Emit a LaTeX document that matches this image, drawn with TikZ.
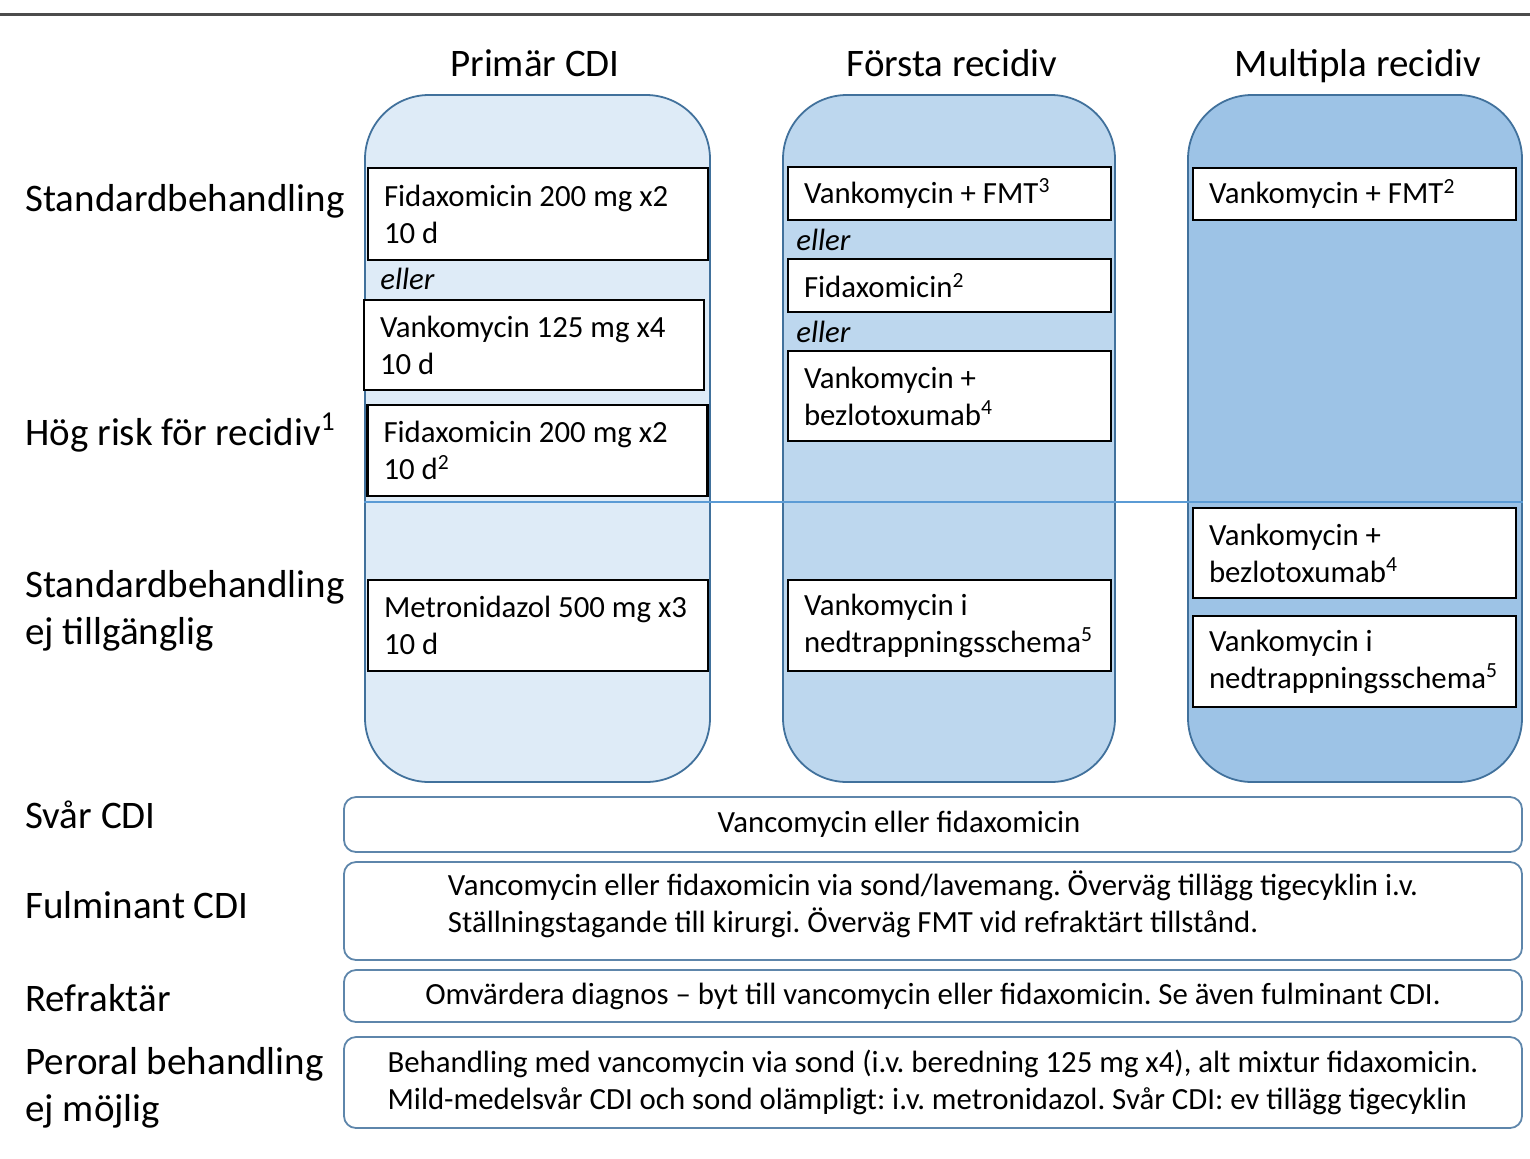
\documentclass[tikz,border=0pt]{standalone}
\usepackage{fontspec}
\setmainfont{Carlito}
\usetikzlibrary{positioning}
\definecolor{lightcol}{RGB}{222,235,247}
\definecolor{midcol}{RGB}{189,215,238}
\definecolor{darkcol}{RGB}{157,195,230}
\definecolor{colborder}{RGB}{65,113,156}
\definecolor{rowline}{RGB}{91,155,213}
\newcommand{\fnote}[1]{\textsuperscript{#1}}
\frenchspacing

\begin{document}
\begin{tikzpicture}[x=0.5pt, y=-0.5pt,
  rowlabel/.style={anchor=west, align=left, inner sep=0pt, font=\fontsize{19.5}{23.5}\selectfont},
  colhead/.style={anchor=base, inner sep=0pt, font=\fontsize{19.5}{24}\selectfont},
  column/.style={draw=colborder, line width=0.9pt, rounded corners=32pt, minimum height=343.5pt, minimum width=#1, inner sep=0pt},
  dose/.style={draw=black, fill=white, line width=1.1pt, align=flush left, inner xsep=8pt, inner ysep=0pt, text width=#1, font=\fontsize{15.4}{18.5}\selectfont},
  orlabel/.style={anchor=west, inner sep=0pt, font=\fontsize{15.4}{18}\selectfont\itshape},
  widebox/.style={draw=colborder!85, fill=white, line width=0.9pt, rounded corners=6pt, minimum width=589pt, align=#1, font=\fontsize{15.4}{18.5}\selectfont}]
  \useasboundingbox (0,0) rectangle (1530,1158);
  \draw[black!70, line width=1.5pt] (0,14) -- (1530,14);

  % column headers
  \node[colhead] (h1) at (535,76) {Primär CDI};
  \node[colhead] (h2) at (952,76) {Första recidiv};
  \node[colhead] (h3) at (1358,76) {Multipla recidiv};

  % columns
  \node[column=172.5pt, fill=lightcol] (c1) at (537.5,438.5) {};
  \node[column=166pt, fill=midcol] (c2) at (949,438.5) {};
  \node[column=167pt, fill=darkcol] (c3) at (1355,438.5) {};
  \coordinate (split) at (365,502);
  \draw[rowline, line width=1pt] (c1.west |- split) -- (c3.east |- split);

  % row labels
  \node[rowlabel] (r1) at (25,201) {Standardbehandling};
  \node[rowlabel] (r2) at (25,433) {Hög risk för recidiv\fnote{1}};
  \node[rowlabel] (r3) at (25,611) {Standardbehandling\\ej tillgänglig};
  \node[rowlabel] (r4) at (25,815) {Svår CDI};
  \node[rowlabel] (r5) at (25,905) {Fulminant CDI};
  \node[rowlabel] (r6) at (25,998) {Refraktär};
  \node[rowlabel] (r7) at (25,1088) {Peroral behandling\\ej möjlig};

  % primär CDI
  \node[dose=154pt, minimum height=46pt] (p1) at (538,214) {Fidaxomicin 200 mg x2\\10 d};
  \node[orlabel] (o1) at (380,279) {eller};
  \node[dose=154pt, minimum height=45pt] (p2) at (534,345) {Vankomycin 125 mg x4\\10 d};
  \node[dose=154pt, minimum height=45.5pt] (p3) at (537.5,450.5) {Fidaxomicin 200 mg x2\\10 d\fnote{2}};
  \node[dose=154pt, minimum height=45.5pt] (p4) at (538,625.5) {Metronidazol 500 mg x3\\10 d};

  % första recidiv
  \node[dose=145.5pt, minimum height=26.5pt] (f1) at (949.5,193.5) {Vankomycin + FMT\fnote{3}};
  \node[orlabel] (o2) at (796,240) {eller};
  \node[dose=145.5pt, minimum height=26.5pt] (f2) at (949.5,285.5) {Fidaxomicin\fnote{2}};
  \node[orlabel] (o3) at (796,332) {eller};
  \node[dose=145.5pt, minimum height=45pt] (f3) at (949.5,396) {Vankomycin +\\bezlotoxumab\fnote{4}};
  \node[dose=145.5pt, minimum height=45.5pt] (f4) at (949.5,625.5) {Vankomycin i\\nedtrappningsschema\fnote{5}};

  % multipla recidiv
  \node[dose=145.5pt, minimum height=26pt] (m1) at (1354.5,194) {Vankomycin + FMT\fnote{2}};
  \node[dose=145.5pt, minimum height=45pt] (m2) at (1354.5,553) {Vankomycin +\\bezlotoxumab\fnote{4}};
  \node[dose=145.5pt, minimum height=45.5pt] (m3) at (1354.5,661.5) {Vankomycin i\\nedtrappningsschema\fnote{5}};

  % wide rows
  \node[widebox=center, minimum height=27.5pt] (w1) at (933,824.5) {Vancomycin eller fidaxomicin\hspace*{34pt}};
  \node[widebox=left, minimum height=49pt, text depth=9pt] (w2) at (933,911) {Vancomycin eller fidaxomicin via sond/lavemang. Överväg tillägg tigecyklin i.v.\\Ställningstagande till kirurgi. Överväg FMT vid refraktärt tillstånd.};
  \node[widebox=center, minimum height=26pt] (w3) at (933,996) {Omvärdera diagnos – byt till vancomycin eller fidaxomicin. Se även fulminant CDI.};
  \node[widebox=left, minimum height=45.5pt] (w4) at (933,1082.5) {Behandling med vancomycin via sond (i.v. beredning 125 mg x4), alt mixtur fidaxomicin.\\Mild-medelsvår CDI och sond olämpligt: i.v. metronidazol. Svår CDI: ev tillägg tigecyklin};
\end{tikzpicture}
\end{document}
